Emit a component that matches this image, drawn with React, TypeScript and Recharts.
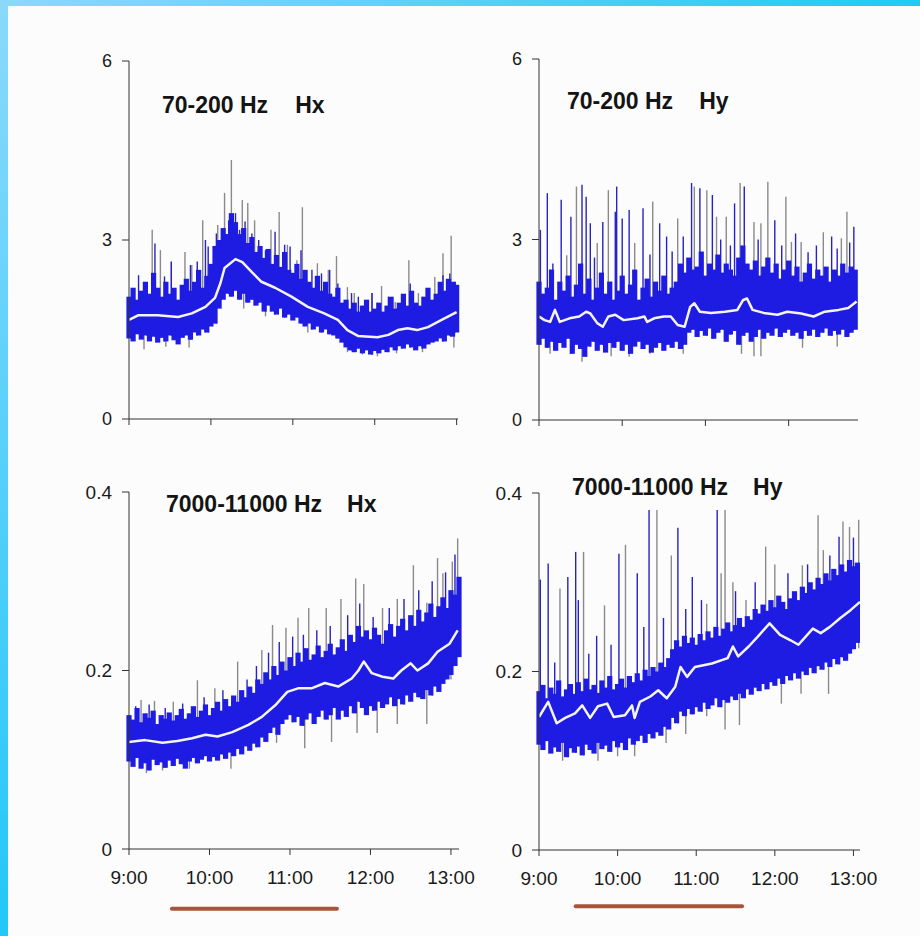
import { ComposedChart, Line, XAxis, YAxis, ErrorBar, ReferenceLine } from 'recharts';

// noise envelope is sampled every 3 minutes from 9:00
const STEP = 3;
const FONT = "'Liberation Sans', Arial, Helvetica, sans-serif";

const hourTicks = [0, 60, 120, 180, 240];
const hourLabels = ['9:00', '10:00', '11:00', '12:00', '13:00'];
const lowBandTicks = [0, 3, 6];
const highBandTicks = [0, 0.2, 0.4];

// ---- 70-200 Hz, Hx ----
const hxLowHi = [
    2.05, 2.2, 2.0, 2.15, 2.3, 2.1, 2.45, 2.2, 2.05, 2.3,
    2.1, 2.2, 2.0, 2.25, 2.35, 2.15, 2.3, 2.5, 2.2, 2.4,
    2.6, 2.9, 3.0, 3.2, 3.1, 3.45, 3.3, 3.1, 3.2, 2.95,
    3.05, 2.8, 2.9, 2.7, 2.85, 2.6, 2.75, 2.55, 2.8, 2.5,
    2.45, 2.6, 2.35, 2.5, 2.3, 2.2, 2.4, 2.15, 2.3, 2.1,
    2.05, 2.2, 1.95, 2.0, 1.85, 1.95, 1.8, 1.9, 2.0, 1.8,
    1.85, 1.95, 1.8, 1.9, 2.05, 1.85, 1.95, 2.1, 1.9, 2.15,
    1.95, 1.9, 2.05, 2.2, 2.0, 2.1, 2.3, 2.15, 2.35, 2.3,
    2.25,
];
const hxLowLo = [
    1.35, 1.3, 1.42, 1.33, 1.4, 1.3, 1.38, 1.28, 1.36, 1.3,
    1.4, 1.32, 1.25, 1.36, 1.4, 1.33, 1.45, 1.4, 1.5, 1.45,
    1.55, 1.6, 1.85, 2.0, 2.1, 2.05, 2.15, 2.0, 2.1, 1.95,
    2.0, 1.9, 1.95, 1.8, 1.9, 1.8, 1.75, 1.85, 1.7, 1.75,
    1.65, 1.7, 1.6, 1.55, 1.6, 1.5, 1.55, 1.45, 1.5, 1.42,
    1.4, 1.35, 1.28, 1.2, 1.15, 1.12, 1.18, 1.1, 1.15, 1.08,
    1.14, 1.1, 1.16, 1.12, 1.2, 1.15, 1.22, 1.18, 1.25, 1.2,
    1.15, 1.22, 1.18, 1.25, 1.28, 1.3, 1.35, 1.3, 1.4, 1.38,
    1.45,
];
const hxLowMidT = [0, 7, 21, 36, 46, 56, 63, 67, 70, 78, 83, 90, 97, 107, 119, 131, 143, 153, 160, 168, 182, 190, 197, 204, 211, 219, 229, 240];
const hxLowMidV = [1.66, 1.74, 1.74, 1.71, 1.77, 1.88, 2.03, 2.28, 2.53, 2.68, 2.63, 2.46, 2.3, 2.2, 2.05, 1.88, 1.77, 1.66, 1.49, 1.39, 1.37, 1.41, 1.49, 1.52, 1.49, 1.54, 1.66, 1.79];
const hxLowGray = [
    [17, 3.17], [23, 2.83], [31, 2.63], [41, 2.8], [46, 2.58], [54, 3.33], [65, 3.25], [70, 3.79], [75, 4.34], [83, 3.67],
    [87, 3.62], [92, 3.33], [104, 3.17], [110, 3.47], [116, 2.92], [123, 2.66], [127, 3.55], [138, 2.61], [146, 2.5], [152, 2.73],
    [160, 2.21], [165, 2.11], [173, 1.96], [178, 2.11], [185, 2.23], [195, 1.96], [205, 2.66], [212, 2.11], [224, 2.38], [230, 2.78], [236, 3.07],
];
const hxLowBlue = [
    [7, 2.41], [13, 2.22], [19, 2.94], [26, 2.39], [31, 2.64], [45, 2.58], [50, 2.64], [56, 3.0], [58, 2.89], [64, 3.11],
    [68, 3.14], [73, 3.33], [78, 3.45], [81, 3.17], [85, 3.31], [90, 3.11], [95, 3.0], [100, 2.83], [107, 3.14], [114, 2.92],
    [118, 2.89], [126, 2.83], [134, 2.5], [141, 2.44], [147, 2.5], [153, 2.27], [163, 2.11], [168, 2.05], [178, 2.11], [190, 2.05],
    [200, 2.05], [206, 2.27], [218, 2.05], [230, 2.41], [235, 2.44], [239, 2.3],
];
const hxLowDrops = [[11, 1.17], [27, 1.21], [44, 1.2], [63, 1.6], [84, 1.85], [100, 1.72], [131, 1.45], [160, 1.12], [171, 1.08], [182, 1.05], [196, 1.1], [215, 1.12], [238, 1.2]];

// ---- 70-200 Hz, Hy ----
const hyLowHi = [
    2.3, 2.1, 2.2, 2.5, 2.0, 2.3, 2.15, 2.4, 2.05, 2.25,
    2.6, 2.1, 2.35, 2.0, 2.2, 2.45, 2.1, 2.3, 2.0, 2.15,
    2.4, 2.1, 2.25, 2.5, 2.0, 2.2, 2.35, 2.05, 2.3, 2.15,
    2.4, 2.1, 2.2, 2.3, 2.6, 2.45, 2.7, 2.5, 2.55, 2.8,
    2.4, 2.6, 2.5, 2.75, 2.45, 2.6, 2.5, 2.4, 2.7, 2.9,
    2.6, 2.5, 2.65, 2.4, 2.55, 2.7, 2.45, 2.6, 2.35, 2.5,
    2.65, 2.4, 2.55, 2.3, 2.45, 2.6, 2.35, 2.5, 2.4, 2.55,
    2.3, 2.5, 2.4, 2.6, 2.45, 2.55, 2.5,
];
const hyLowLo = [
    1.25, 1.35, 1.2, 1.3, 1.15, 1.28, 1.2, 1.35, 1.1, 1.25,
    1.18, 1.05, 1.22, 1.3, 1.15, 1.25, 1.12, 1.28, 1.2, 1.3,
    1.15, 1.25, 1.1, 1.22, 1.3, 1.18, 1.25, 1.12, 1.2, 1.28,
    1.15, 1.25, 1.2, 1.3, 1.18, 1.25, 1.45, 1.5, 1.38, 1.48,
    1.4, 1.52, 1.35, 1.45, 1.5, 1.3, 1.42, 1.48, 1.25, 1.4,
    1.45, 1.3, 1.38, 1.5, 1.35, 1.45, 1.4, 1.52, 1.38, 1.45,
    1.5, 1.4, 1.45, 1.35, 1.48, 1.4, 1.5, 1.38, 1.45, 1.52,
    1.4, 1.48, 1.42, 1.5, 1.38, 1.45, 1.5,
];
const hyLowMidT = [0, 4, 8, 11.5, 15, 22, 29, 34, 37, 42, 46, 50, 55, 61, 71, 76, 78, 83, 90, 95, 100, 105, 109, 112, 116, 124, 134, 143, 147, 150, 154, 162, 172, 179, 189, 198, 206, 216, 223, 229];
const hyLowMidV = [1.72, 1.66, 1.63, 1.83, 1.63, 1.69, 1.72, 1.8, 1.77, 1.61, 1.55, 1.72, 1.75, 1.66, 1.69, 1.72, 1.63, 1.69, 1.72, 1.72, 1.58, 1.55, 1.88, 1.94, 1.8, 1.78, 1.8, 1.83, 1.99, 2.02, 1.83, 1.78, 1.75, 1.8, 1.77, 1.72, 1.8, 1.83, 1.86, 1.97];
const hyLowGray = [
    [20, 2.74], [27, 3.88], [42, 2.94], [50, 3.82], [69, 2.94], [82, 3.63], [100, 3.35], [112, 3.88], [121, 3.82], [128, 3.38],
    [135, 3.38], [145, 3.94], [155, 3.29], [160, 3.27], [165, 3.96], [178, 3.71], [182, 2.96], [189, 2.96], [205, 3.12], [218, 3.02], [222, 3.46],
];
const hyLowBlue = [
    [1, 3.16], [6, 3.77], [10, 2.6], [16, 3.66], [23, 3.38], [31, 3.91], [34, 3.71], [37, 3.27], [40, 2.7], [46, 3.29],
    [55, 3.46], [56, 3.88], [60, 3.35], [65, 3.49], [75, 3.52], [80, 2.75], [87, 3.27], [92, 3.05], [96, 2.8], [104, 3.05],
    [110, 3.94], [116, 3.85], [125, 3.74], [131, 3.0], [138, 2.9], [141, 3.6], [148, 3.88], [158, 3.0], [170, 3.32], [175, 2.9],
    [185, 3.1], [194, 2.79], [200, 2.9], [211, 3.05], [215, 2.85], [224, 2.95], [227, 3.21],
];
const hyLowDrops = [[8, 1.1], [31, 0.97], [52, 1.06], [65, 1.05], [80, 1.1], [104, 1.1], [146, 1.1], [155, 1.06], [160, 1.06], [190, 1.2], [215, 1.22]];

// ---- 7000-11000 Hz, Hx ----
const hxHighHi = [
    0.150, 0.145, 0.158, 0.142, 0.152, 0.147, 0.155, 0.140, 0.150, 0.146,
    0.153, 0.144, 0.150, 0.157, 0.146, 0.152, 0.160, 0.148, 0.155, 0.162,
    0.150, 0.158, 0.165, 0.155, 0.168, 0.160, 0.172, 0.165, 0.178, 0.170,
    0.182, 0.175, 0.190, 0.185, 0.198, 0.190, 0.205, 0.195, 0.210, 0.200,
    0.215, 0.205, 0.220, 0.210, 0.225, 0.212, 0.218, 0.228, 0.215, 0.222,
    0.230, 0.218, 0.226, 0.235, 0.222, 0.240, 0.232, 0.250, 0.238, 0.245,
    0.235, 0.248, 0.240, 0.230, 0.245, 0.252, 0.238, 0.250, 0.258, 0.245,
    0.262, 0.250, 0.268, 0.255, 0.265, 0.275, 0.260, 0.272, 0.282, 0.270,
    0.290, 0.285, 0.305,
];
const hxHighLo = [
    0.098, 0.092, 0.102, 0.090, 0.096, 0.088, 0.100, 0.094, 0.097, 0.091,
    0.099, 0.093, 0.101, 0.095, 0.090, 0.098, 0.102, 0.096, 0.100, 0.104,
    0.098, 0.103, 0.099, 0.106, 0.101, 0.108, 0.104, 0.112, 0.106, 0.115,
    0.110, 0.118, 0.114, 0.125, 0.120, 0.130, 0.136, 0.128, 0.140, 0.145,
    0.150, 0.142, 0.148, 0.138, 0.145, 0.152, 0.140, 0.148, 0.155, 0.145,
    0.150, 0.158, 0.145, 0.155, 0.148, 0.160, 0.152, 0.165, 0.158, 0.150,
    0.160, 0.155, 0.165, 0.158, 0.162, 0.170, 0.160, 0.168, 0.162, 0.172,
    0.165, 0.175, 0.170, 0.168, 0.178, 0.172, 0.182, 0.176, 0.185, 0.190,
    0.195, 0.205, 0.215,
];
const hxHighMidT = [0, 12, 25, 36, 47, 57, 66, 77, 89, 99, 109, 118, 126, 136, 146, 156, 166, 171, 175, 181, 189, 197, 203, 210, 215, 223, 230, 239, 245];
const hxHighMidV = [0.12, 0.122, 0.119, 0.121, 0.124, 0.128, 0.126, 0.131, 0.139, 0.148, 0.161, 0.176, 0.18, 0.18, 0.186, 0.182, 0.191, 0.2, 0.21, 0.197, 0.193, 0.191, 0.2, 0.208, 0.2, 0.208, 0.221, 0.23, 0.245];
const hxHighGray = [
    [9, 0.167], [19, 0.166], [33, 0.165], [51, 0.189], [64, 0.18], [81, 0.21], [99, 0.223], [107, 0.251], [117, 0.248], [126, 0.259],
    [134, 0.27], [147, 0.27], [158, 0.28], [169, 0.303], [175, 0.297], [189, 0.27], [200, 0.28], [212, 0.318], [222, 0.276], [230, 0.326],
    [234, 0.309], [241, 0.322], [245, 0.348],
];
const hxHighBlue = [
    [5, 0.16], [15, 0.162], [27, 0.158], [40, 0.163], [56, 0.17], [70, 0.178], [88, 0.19], [95, 0.205], [104, 0.22], [112, 0.232],
    [122, 0.238], [130, 0.24], [140, 0.245], [150, 0.25], [163, 0.262], [172, 0.275], [182, 0.26], [194, 0.27], [205, 0.28], [216, 0.29],
    [226, 0.3], [236, 0.31], [243, 0.33],
];
const hxHighDrops = [[13, 0.085], [25, 0.088], [45, 0.09], [76, 0.09], [110, 0.119], [131, 0.113], [151, 0.12], [170, 0.13], [185, 0.13], [200, 0.14], [222, 0.14], [240, 0.19]];

// ---- 7000-11000 Hz, Hy ----
const hyHighHi = [
    0.178, 0.185, 0.170, 0.182, 0.175, 0.190, 0.172, 0.180, 0.186, 0.175,
    0.188, 0.178, 0.192, 0.180, 0.185, 0.176, 0.190, 0.182, 0.195, 0.180,
    0.186, 0.192, 0.182, 0.195, 0.188, 0.198, 0.190, 0.202, 0.195, 0.205,
    0.200, 0.210, 0.205, 0.215, 0.225, 0.235, 0.228, 0.240, 0.232, 0.238,
    0.230, 0.242, 0.235, 0.245, 0.238, 0.250, 0.240, 0.248, 0.255, 0.245,
    0.252, 0.260, 0.250, 0.262, 0.258, 0.270, 0.265, 0.275, 0.268, 0.280,
    0.272, 0.285, 0.278, 0.270, 0.282, 0.290, 0.280, 0.295, 0.288, 0.300,
    0.292, 0.305, 0.298, 0.310, 0.302, 0.315, 0.308, 0.320, 0.312, 0.325,
    0.318, 0.322,
];
const hyHighLo = [
    0.118, 0.112, 0.122, 0.108, 0.115, 0.110, 0.120, 0.104, 0.114, 0.109,
    0.116, 0.106, 0.118, 0.112, 0.108, 0.120, 0.113, 0.117, 0.110, 0.122,
    0.115, 0.120, 0.112, 0.125, 0.118, 0.122, 0.128, 0.120, 0.130, 0.125,
    0.132, 0.128, 0.138, 0.135, 0.148, 0.142, 0.155, 0.150, 0.158, 0.152,
    0.160, 0.155, 0.165, 0.158, 0.162, 0.170, 0.160, 0.168, 0.165, 0.172,
    0.168, 0.175, 0.170, 0.180, 0.174, 0.182, 0.178, 0.186, 0.180, 0.188,
    0.184, 0.192, 0.186, 0.195, 0.190, 0.198, 0.192, 0.200, 0.196, 0.204,
    0.198, 0.206, 0.202, 0.210, 0.205, 0.214, 0.208, 0.216, 0.212, 0.220,
    0.225, 0.232,
];
const hyHighMidT = [0, 7, 13.5, 20, 27.5, 33, 39, 45, 52, 57, 65.6, 71, 73, 77, 85, 91, 97.5, 104, 108, 113, 119, 132, 144, 148, 152, 160, 167, 176, 184, 192, 198, 209, 215, 222, 230, 238, 245];
const hyHighMidV = [0.149, 0.166, 0.142, 0.148, 0.153, 0.162, 0.148, 0.161, 0.164, 0.149, 0.151, 0.162, 0.148, 0.166, 0.172, 0.179, 0.17, 0.183, 0.205, 0.194, 0.205, 0.209, 0.215, 0.228, 0.217, 0.228, 0.239, 0.254, 0.241, 0.235, 0.23, 0.248, 0.243, 0.25, 0.26, 0.269, 0.278];
const hyHighGray = [
    [16, 0.293], [34, 0.334], [50, 0.274], [66, 0.342], [90, 0.381], [101, 0.33], [128, 0.276], [139, 0.31], [142, 0.381], [148, 0.3],
    [158, 0.28], [173, 0.34], [180, 0.32], [201, 0.319], [213, 0.375], [217, 0.336], [232, 0.368], [237, 0.362], [244, 0.37],
];
const hyHighBlue = [
    [1, 0.303], [7, 0.321], [12, 0.21], [22, 0.306], [28, 0.334], [30, 0.28], [38, 0.22], [44, 0.24], [55, 0.23], [61, 0.332],
    [75, 0.31], [80, 0.25], [84, 0.381], [95, 0.26], [106, 0.361], [112, 0.27], [117, 0.306], [124, 0.28], [136, 0.381], [150, 0.29],
    [165, 0.3], [190, 0.31], [205, 0.32], [222, 0.33], [229, 0.351], [240, 0.35],
];
const hyHighDrops = [[18, 0.1], [45, 0.1], [60, 0.105], [73, 0.105], [97, 0.12], [112, 0.13], [128, 0.15], [142, 0.135], [153, 0.14], [185, 0.164], [200, 0.175], [221, 0.175], [244, 0.226]];

// observation interval marked under the lower panels (minutes after 9:00)
const hxHighMark = [32, 155];
const hyHighMark = [28, 155];

const BAND = '#1e1ce2';
const SPIKE_BLUE = '#2622c4';
const SPIKE_GRAY = '#8a8a8e';

interface PanelProps {
    left: number;
    top: number;
    width: number;
    height: number;
    margin: { top: number; right: number; bottom: number; left: number };
    xMax: number;
    xTicks: number[];
    showHours: boolean;
    yMax: number;
    yTicks: number[];
    yFont: number;
    hi: number[];
    lo: number[];
    midT: number[];
    midV: number[];
    gray: number[][];
    blue: number[][];
    drops: number[][];
    mark?: number[];
    markY?: number;
}

function Panel(p: PanelProps) {
    const idx = (t: number) => Math.min(p.lo.length - 1, Math.max(0, Math.round(t / STEP)));

    const band = p.hi.map((h, i) => ({ t: i * STEP, v: p.lo[i], e: [0, h - p.lo[i]] }));
    const up = (list: number[][]) => list.map(([t, v]) => ({ t, v, e: [v - p.lo[idx(t)], 0] }));
    const grayRows = up(p.gray);
    const blueRows = up(p.blue);
    const dropRows = p.drops.map(([t, v]) => ({ t, v, e: [0, p.hi[idx(t)] - v] }));
    const mid = p.midT.map((t, i) => ({ t, v: p.midV[i] }));

    const hidden = { stroke: 'none', dot: false, activeDot: false, isAnimationActive: false, legendType: 'none' as const };

    return (
        <div style={{ position: 'absolute', left: p.left, top: p.top }}>
            <ComposedChart width={p.width} height={p.height} margin={p.margin}>
                <XAxis
                    type="number"
                    dataKey="t"
                    domain={[0, p.xMax]}
                    ticks={p.xTicks}
                    interval={0}
                    allowDataOverflow
                    height={30}
                    tickSize={6}
                    tickMargin={16}
                    stroke="#333"
                    tick={{ fill: '#1a1a1a', fontSize: 19, fontFamily: FONT }}
                    tickFormatter={(m: number) => (p.showHours ? hourLabels[hourTicks.indexOf(m)] : '')}
                />
                <YAxis
                    type="number"
                    domain={[0, p.yMax]}
                    ticks={p.yTicks}
                    interval={0}
                    allowDataOverflow
                    width={60}
                    tickSize={7}
                    tickMargin={10}
                    stroke="#333"
                    tick={{ fill: '#1a1a1a', fontSize: p.yFont, fontFamily: FONT }}
                    tickFormatter={(v: number) => String(v)}
                />
                <Line data={grayRows} dataKey="v" {...hidden}>
                    <ErrorBar dataKey="e" width={0} stroke={SPIKE_GRAY} strokeWidth={1.4} direction="y" isAnimationActive={false} />
                </Line>
                <Line data={dropRows} dataKey="v" {...hidden}>
                    <ErrorBar dataKey="e" width={0} stroke={SPIKE_GRAY} strokeWidth={1.4} direction="y" isAnimationActive={false} />
                </Line>
                <Line data={blueRows} dataKey="v" {...hidden}>
                    <ErrorBar dataKey="e" width={0} stroke={SPIKE_BLUE} strokeWidth={1.4} direction="y" isAnimationActive={false} />
                </Line>
                <Line data={band} dataKey="v" {...hidden}>
                    <ErrorBar dataKey="e" width={0} stroke={BAND} strokeWidth={5.2} direction="y" isAnimationActive={false} />
                </Line>
                <Line
                    data={mid}
                    dataKey="v"
                    type="linear"
                    stroke="#f4f4f4"
                    strokeWidth={2.5}
                    strokeLinejoin="round"
                    dot={false}
                    activeDot={false}
                    isAnimationActive={false}
                />
                {p.mark && (
                    <ReferenceLine
                        segment={[{ x: p.mark[0], y: p.markY }, { x: p.mark[1], y: p.markY }]}
                        stroke="#a8543a"
                        strokeWidth={4}
                        strokeLinecap="round"
                        ifOverflow="visible"
                    />
                )}
            </ComposedChart>
        </div>
    );
}

function Title({ left, top, band, comp, gap }: { left: number; top: number; band: string; comp: string; gap: number }) {
    return (
        <div
            style={{
                position: 'absolute',
                left,
                top,
                fontFamily: FONT,
                fontWeight: 'bold',
                fontSize: 23,
                lineHeight: '23px',
                color: '#141414',
                whiteSpace: 'nowrap',
            }}
        >
            {band}
            <span style={{ marginLeft: gap }}>{comp}</span>
        </div>
    );
}

export default function App() {
    return (
        <div style={{ position: 'absolute', left: 0, top: 0, width: 920, height: 936, background: '#fcfcfc', overflow: 'hidden' }}>
            <div style={{ position: 'absolute', left: 0, top: 0, width: 920, height: 6, background: 'linear-gradient(to right, #8ad9fb, #22c9f6)' }} />
            <div style={{ position: 'absolute', left: 0, top: 0, width: 8, height: 936, background: 'linear-gradient(to bottom, #8ad9fb, #22c7f8)' }} />

            <Panel
                left={0} top={0} width={470} height={460}
                margin={{ top: 61, right: 12, bottom: 11, left: 69 }}
                xMax={241} xTicks={hourTicks} showHours={false}
                yMax={6} yTicks={lowBandTicks} yFont={18}
                hi={hxLowHi} lo={hxLowLo} midT={hxLowMidT} midV={hxLowMidV}
                gray={hxLowGray} blue={hxLowBlue} drops={hxLowDrops}
            />
            <Panel
                left={460} top={0} width={460} height={460}
                margin={{ top: 59, right: 62, bottom: 10, left: 19 }}
                xMax={230} xTicks={[0, 60, 120, 180]} showHours={false}
                yMax={6} yTicks={lowBandTicks} yFont={18}
                hi={hyLowHi} lo={hyLowLo} midT={hyLowMidT} midV={hyLowMidV}
                gray={hyLowGray} blue={hyLowBlue} drops={hyLowDrops}
            />
            <Panel
                left={0} top={460} width={495} height={476}
                margin={{ top: 32, right: 36, bottom: 57, left: 69 }}
                xMax={246} xTicks={hourTicks} showHours
                yMax={0.4} yTicks={highBandTicks} yFont={19}
                hi={hxHighHi} lo={hxHighLo} midT={hxHighMidT} midV={hxHighMidV}
                gray={hxHighGray} blue={hxHighBlue} drops={hxHighDrops}
                mark={hxHighMark} markY={-0.067}
            />
            <Panel
                left={460} top={460} width={460} height={476}
                margin={{ top: 33, right: 60, bottom: 56, left: 19 }}
                xMax={245} xTicks={hourTicks} showHours
                yMax={0.4} yTicks={highBandTicks} yFont={19}
                hi={hyHighHi} lo={hyHighLo} midT={hyHighMidT} midV={hyHighMidV}
                gray={hyHighGray} blue={hyHighBlue} drops={hyHighDrops}
                mark={hyHighMark} markY={-0.063}
            />

            <Title left={162} top={94} band="70-200 Hz" comp="Hx" gap={27} />
            <Title left={567} top={90} band="70-200 Hz" comp="Hy" gap={26} />
            <Title left={166} top={493} band="7000-11000 Hz" comp="Hx" gap={25} />
            <Title left={572} top={476} band="7000-11000 Hz" comp="Hy" gap={25} />
        </div>
    );
}
